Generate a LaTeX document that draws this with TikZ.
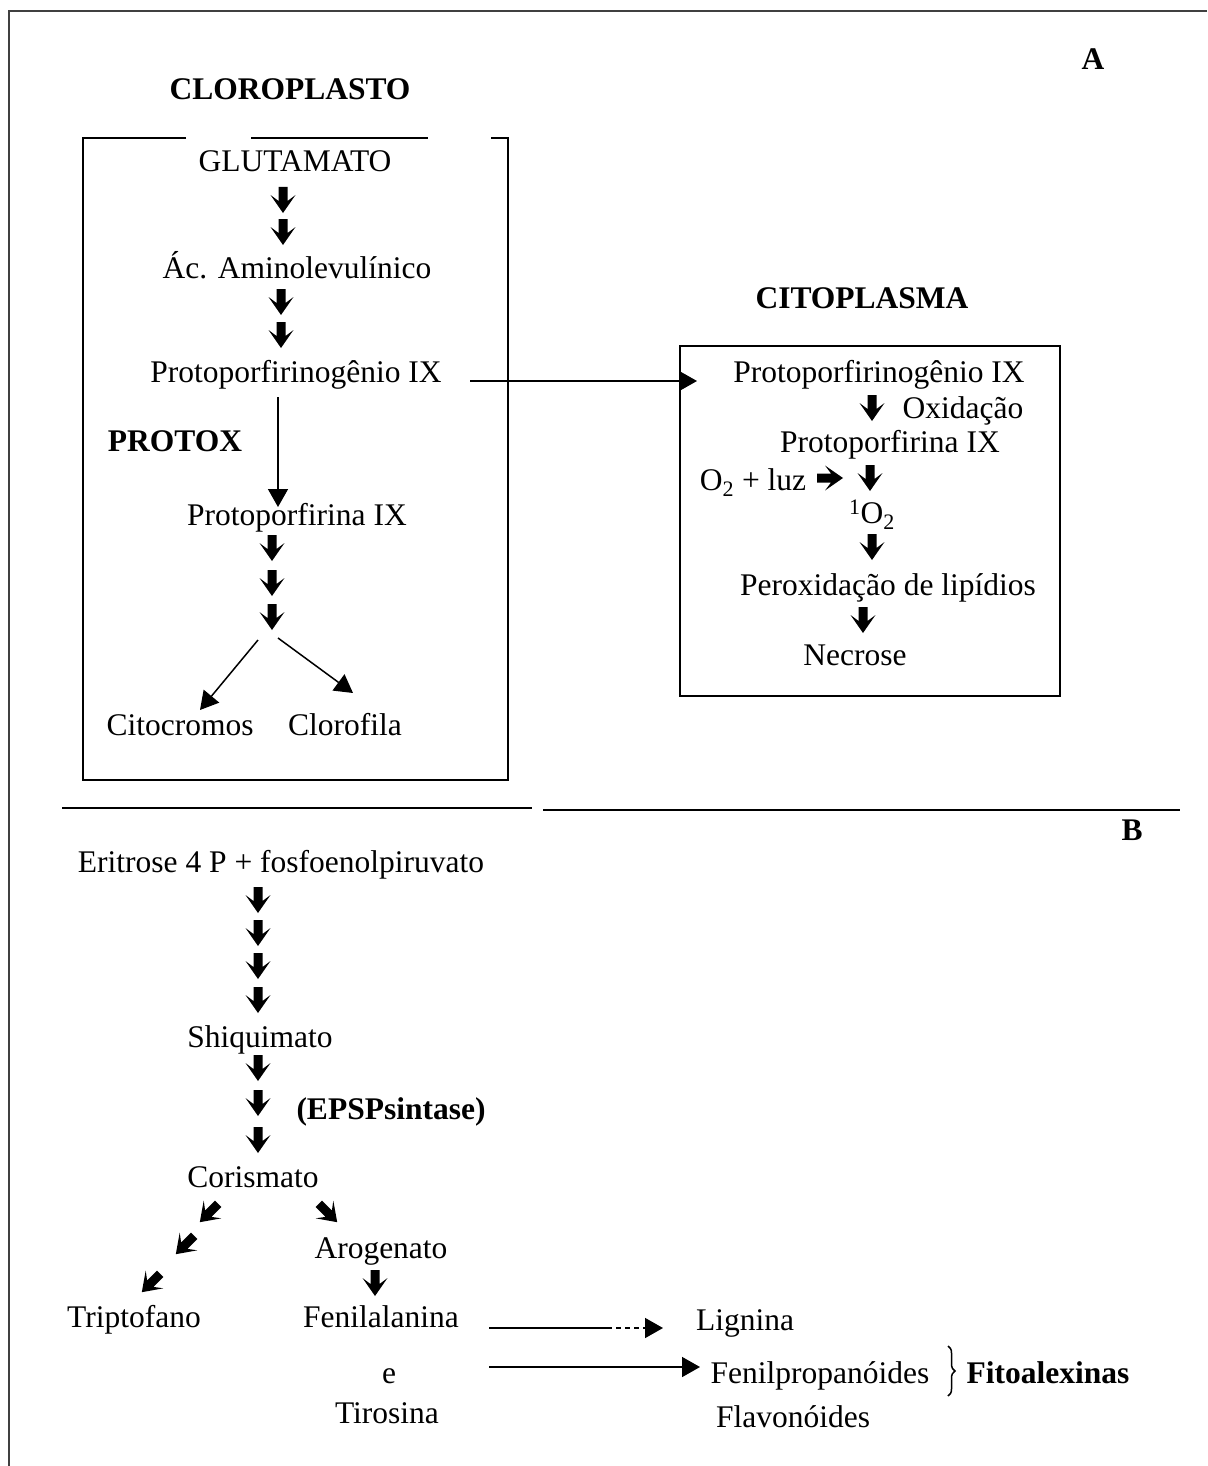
\documentclass[tikz,border=0pt]{standalone}
\usepackage{fontspec}
\setmainfont{Liberation Serif}
\usetikzlibrary{arrows.meta,decorations.pathreplacing}

\tikzset{
  dn/.pic={\fill (-4.5,-13) -- (4.5,-13) -- (4.5,1) -- (12.5,-5) -- (0,13) -- (-12.5,-5) -- (-4.5,1) -- cycle;}
}

\begin{document}
\begin{tikzpicture}[x=1bp,y=-1bp,
    lbl/.style={inner sep=0pt,text height=24bp,text depth=4bp,font=\fontsize{31.5bp}{36bp}\selectfont},
    ttl/.style={lbl,font=\fontsize{31.5bp}{36bp}\selectfont\bfseries},
    box/.style={line width=2bp},
    thinarr/.style={line width=1.5bp,-{Triangle[length=18bp,width=20bp]}}]

  \useasboundingbox (0,0) rectangle (1207,1466);
  % moldura
  \draw[line width=2bp,black!75] (1207,11) -- (9,11) -- (9,1466);

  % A: cloroplasto
  \node[ttl] (A) at (1093,60) {A};
  \node[ttl] (clor) at (290,90) {CLOROPLASTO};
  \draw[box] (186,138) -- (83,138) -- (83,780) -- (508,780) -- (508,138) -- (491,138);
  \draw[box] (251,138) -- (428,138);

  \node[lbl] (glut) at (295,162) {GLUTAMATO};
  \pic at (283,200) {dn};
  \pic at (283,232) {dn};
  \node[lbl] (ala) at (297,268) {Ác. Aminolevulínico};
  \pic at (281,302) {dn};
  \pic at (281,335) {dn};
  \node[lbl] (pgenA) at (296,372) {Protoporfirinogênio IX};
  \node[ttl] (protox) at (175,441) {PROTOX};
  \node[lbl] (ppA) at (297,515) {Protoporfirina IX};
  \pic at (272,548) {dn};
  \pic at (272,583) {dn};
  \pic at (272,617) {dn};
  \node[lbl] (cito) at (180,725) {Citocromos};
  \node[lbl] (clf) at (345,725) {Clorofila};

  \coordinate (ptxA) at (278,397);
  \coordinate (ptxB) at (278,507);
  \coordinate (brL) at (258,640);
  \coordinate (brR) at (278,638);
  \draw[thinarr] (ptxA) -- (ptxB);
  \draw[thinarr] (brL) -- (200,710);
  \draw[thinarr] (brR) -- (353,693);

  % A: citoplasma
  \node[ttl] (citop) at (862,298) {CITOPLASMA};
  \draw[box] (680,346) rectangle (1060,696);
  \node[lbl] (pgenC) at (879,372) {Protoporfirinogênio IX};
  \pic at (872,408) {dn};
  \node[lbl] (oxi) at (963,408) {Oxidação};
  \node[lbl] (ppC) at (890,442) {Protoporfirina IX};
  \node[lbl] (luz) at (753,480) {O\textsubscript{2} + luz};
  \pic[rotate=90] at (830,478) {dn};
  \pic at (870,478) {dn};
  \node[lbl] (singO) at (872,513) {\textsuperscript{1}O\textsubscript{2}};
  \pic at (872,547) {dn};
  \node[lbl] (perox) at (888,585) {Peroxidação de lipídios};
  \pic at (863,620) {dn};
  \node[lbl] (necr) at (855,655) {Necrose};

  \coordinate (crA) at (470,381);
  \coordinate (crB) at (697,381);
  \draw[thinarr] (crA) -- (crB);

  % divisao
  \draw[box] (62,808) -- (532,808);
  \draw[box] (543,810) -- (1180,810);

  % B
  \node[ttl] (B) at (1132,830) {B};
  \node[lbl] (erit) at (281,862) {Eritrose 4 P + fosfoenolpiruvato};
  \foreach \y in {900,933,966,1000}
    \pic at (258,\y) {dn};
  \node[lbl] (shiq) at (260,1037) {Shiquimato};
  \foreach \y in {1068,1103,1140}
    \pic at (258,\y) {dn};
  \node[ttl] (epsp) at (391,1109) {(EPSPsintase)};
  \node[lbl] (coris) at (253,1177) {Corismato};
  \pic[rotate=-45] at (209,1213) {dn};
  \pic[rotate=45] at (328,1213) {dn};
  \pic[rotate=-45] at (185,1245) {dn};
  \node[lbl] (arog) at (381,1248) {Arogenato};
  \pic[rotate=-45] at (151,1283) {dn};
  \pic at (375,1283) {dn};
  \node[lbl] (trip) at (134,1317) {Triptofano};
  \node[lbl] (fenil) at (381,1317) {Fenilalanina};
  \node[lbl] (e) at (389,1373) {e};
  \node[lbl] (tiro) at (387,1413) {Tirosina};

  \node[lbl] (lign) at (745,1320) {Lignina};
  \node[lbl] (fprop) at (820,1373) {Fenilpropanóides};
  \node[ttl] (fito) at (1048,1373) {Fitoalexinas};
  \node[lbl] (flav) at (793,1417) {Flavonóides};
  \draw[decorate,decoration={brace,amplitude=7bp},line width=1.5bp] (948,1346) -- (948,1396);

  \coordinate (lgA) at (489,1328);
  \coordinate (lgB) at (607,1328);
  \coordinate (lgC) at (663,1328);
  \coordinate (fpA) at (489,1367);
  \coordinate (fpB) at (700,1367);
  \draw[line width=1.5bp] (lgA) -- (lgB);
  \draw[thinarr,dash pattern=on 5bp off 4bp] (lgB) -- (lgC);
  \draw[thinarr] (fpA) -- (fpB);
\end{tikzpicture}
\end{document}
